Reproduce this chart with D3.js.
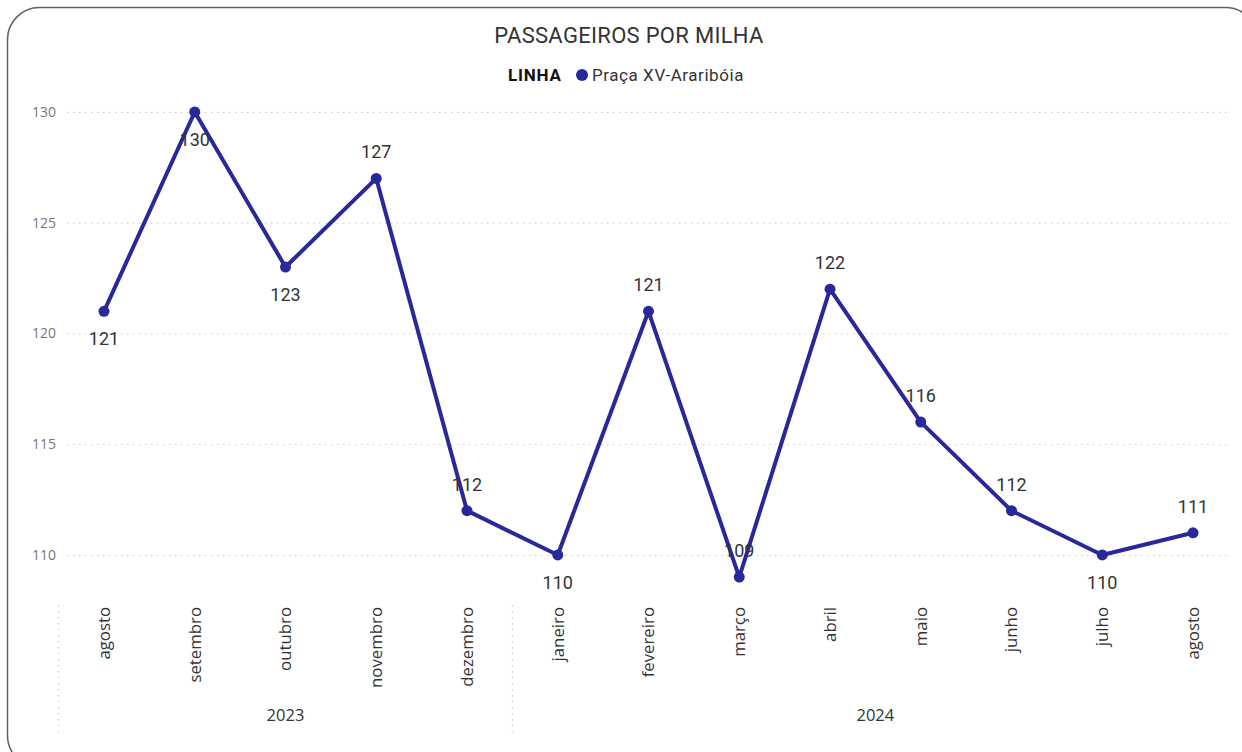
<!DOCTYPE html>
<html>
<head>
<meta charset="utf-8">
<script src="https://cdn.jsdelivr.net/npm/d3@7"></script>
<style>
  body { margin: 0; background: #fff; }
  svg { display: block; }
</style>
</head>
<body>
<div id="chart"></div>
<script>
// data
const months = ["agosto", "setembro", "outubro", "novembro", "dezembro", "janeiro", "fevereiro",
  "março", "abril", "maio", "junho", "julho", "agosto"];
const years = ["2023", "2023", "2023", "2023", "2023", "2024", "2024", "2024", "2024", "2024", "2024", "2024", "2024"];
const values = [121, 130, 123, 127, 112, 110, 121, 109, 122, 116, 112, 110, 111];
const yTicks = [110, 115, 120, 125, 130];
const seriesName = "Praça XV-Araribóia";

// which data labels sit under their point
const labelBelow = [0, 1, 2, 5, 11];

const width = 1242, height = 752;
const lineColor = "#28289b";

const svg = d3.select("#chart").append("svg")
  .attr("width", width)
  .attr("height", height);

// card border
svg.append("rect")
  .attr("x", 7.5).attr("y", 7.5)
  .attr("width", 1250).attr("height", 760)
  .attr("rx", 32)
  .attr("fill", "#fff")
  .attr("stroke", "#606060")
  .attr("stroke-width", 1.5);

svg.append("text")
  .attr("x", 629).attr("y", 43)
  .attr("text-anchor", "middle")
  .attr("font-family", "Roboto, sans-serif")
  .attr("font-size", 22)
  .attr("letter-spacing", 0.3)
  .attr("fill", "#333")
  .text("PASSAGEIROS POR MILHA");

// legend
const legend = svg.append("g").attr("transform", "translate(508,81)");
legend.append("text")
  .attr("font-family", "Roboto, sans-serif")
  .attr("font-weight", "bold")
  .attr("font-size", 17)
  .attr("letter-spacing", 0.8)
  .attr("fill", "#111")
  .text("LINHA");
legend.append("circle").attr("cx", 74).attr("cy", -6).attr("r", 6).attr("fill", lineColor);
legend.append("text")
  .attr("x", 84)
  .attr("font-family", "Roboto, sans-serif")
  .attr("font-size", 17)
  .attr("letter-spacing", 0.55)
  .attr("fill", "#333")
  .text(seriesName);

// scales
const x = d3.scaleBand()
  .domain(d3.range(months.length))
  .range([58.6, 1238.4]);

const y = d3.scaleLinear()
  .domain([108.4, 130.5])
  .range([590.4, 100.9]);

const cx = i => x(i) + x.bandwidth() / 2;

// y grid + labels
const yAxis = svg.append("g")
  .attr("transform", "translate(67,0)")
  .call(d3.axisLeft(y).tickValues(yTicks).tickSize(-1161).tickPadding(11));
yAxis.select(".domain").remove();
yAxis.selectAll(".tick line")
  .attr("stroke", "#c8c8c8")
  .attr("stroke-dasharray", "1.5,4.5");
yAxis.selectAll(".tick text")
  .attr("font-family", "'Open Sans', sans-serif")
  .attr("font-size", 14)
  .attr("fill", "#777");

// x axis month labels
const xAxis = svg.append("g")
  .attr("transform", "translate(0,605)")
  .call(d3.axisBottom(x).tickFormat(i => months[i]).tickSize(0));
xAxis.select(".domain").remove();
xAxis.selectAll(".tick text")
  .attr("transform", "rotate(-90)")
  .attr("text-anchor", "end")
  .attr("dy", "0.35em")
  .attr("x", -2)
  .attr("y", 0)
  .attr("font-family", "'Open Sans', sans-serif")
  .attr("font-size", 16.8)
  .attr("fill", "#333");

// year groups
const yearGroups = d3.groups(d3.range(months.length), i => years[i]);
yearGroups.forEach(([yr, idx]) => {
  const x0 = x(idx[0]), x1 = x(idx[idx.length - 1]) + x.bandwidth();
  svg.append("text")
    .attr("x", (x0 + x1) / 2)
    .attr("y", 721)
    .attr("text-anchor", "middle")
    .attr("font-family", "'Open Sans', sans-serif")
    .attr("font-size", 16.5)
    .attr("fill", "#333")
    .text(yr);
  svg.append("line")
    .attr("x1", x0).attr("x2", x0)
    .attr("y1", 605).attr("y2", 732)
    .attr("stroke", "#c8c8c8")
    .attr("stroke-dasharray", "1.5,4.5");
});

// line
const line = d3.line()
  .x((d, i) => cx(i))
  .y(d => y(d));

svg.append("path")
  .datum(values)
  .attr("fill", "none")
  .attr("stroke", lineColor)
  .attr("stroke-width", 4)
  .attr("stroke-linejoin", "round")
  .attr("d", line);

svg.selectAll("circle.pt")
  .data(values)
  .join("circle")
  .attr("class", "pt")
  .attr("cx", (d, i) => cx(i))
  .attr("cy", d => y(d))
  .attr("r", 5.5)
  .attr("fill", lineColor);

// data labels
svg.selectAll("text.lbl")
  .data(values)
  .join("text")
  .attr("class", "lbl")
  .attr("x", (d, i) => cx(i))
  .attr("y", (d, i) => labelBelow.includes(i) ? y(d) + 34 : y(d) - 20)
  .attr("text-anchor", "middle")
  .attr("font-family", "Roboto, sans-serif")
  .attr("font-size", 18)
  .attr("fill", "#333")
  .text(d => d);
</script>
</body>
</html>
